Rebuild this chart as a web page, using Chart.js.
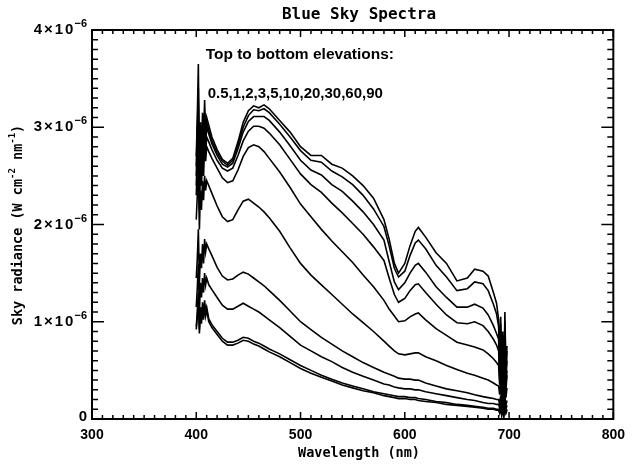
<!DOCTYPE html>
<html>
<head>
<meta charset="utf-8">
<script src="https://cdn.jsdelivr.net/npm/chart.js@4.4.0/dist/chart.umd.min.js"></script>
<style>
  html, body { margin: 0; padding: 0; background: #fff; }
  #wrap { width: 633px; height: 464px; }
</style>
</head>
<body>
<div id="wrap"><canvas id="chart" width="633" height="464"></canvas></div>
<script>
// wavelength grid (nm), shared by all spectra
const wavelengths = [400,401,402,403,404,405,406,407,408,409,410,
  412,415,420,425,430,435,440,445,450,455,460,465,470,
  480,490,500,510,520,530,540,550,560,570,580,
  585,590,594,600,605,610,613,620,630,640,650,660,667,675,680,685,688,
  690,691,692,693,694,695,696,697,698];

// sky radiance in units of 1e-6 W cm^-2 nm^-1, one array per elevation (deg)
const elevations = ['0.5','1','2','3','5','10','20','30','60','90'];

const sky05 = [2.70,3.10,3.65,2.45,3.05,2.75,3.15,2.85,3.28,2.95,3.10,
  3.02,2.90,2.77,2.67,2.63,2.68,2.85,3.05,3.17,3.22,3.20,3.23,3.19,
  3.07,2.95,2.80,2.71,2.71,2.62,2.58,2.50,2.40,2.27,2.05,
  1.85,1.60,1.50,1.60,1.78,1.93,1.97,1.87,1.71,1.60,1.42,1.45,1.54,1.52,1.47,1.30,1.19,
  1.02,0.60,1.05,0.40,0.90,0.35,1.10,0.50,0.75];
const sky1 = [2.60,3.00,3.40,2.50,2.95,2.70,3.05,2.80,3.15,2.90,3.05,
  2.97,2.86,2.74,2.65,2.61,2.66,2.82,3.00,3.12,3.18,3.17,3.19,3.15,
  3.03,2.90,2.76,2.66,2.64,2.55,2.49,2.41,2.30,2.16,1.98,
  1.78,1.55,1.46,1.52,1.68,1.81,1.84,1.75,1.58,1.46,1.32,1.34,1.41,1.39,1.32,1.18,1.08,
  0.95,0.55,0.98,0.35,0.85,0.30,1.00,0.45,0.70];
const sky2 = [2.50,2.90,3.25,2.40,2.85,2.60,2.95,2.75,3.05,2.85,3.00,
  2.93,2.83,2.71,2.62,2.59,2.63,2.78,2.95,3.06,3.11,3.11,3.11,3.07,
  2.95,2.81,2.66,2.56,2.51,2.41,2.34,2.24,2.13,2.00,1.84,
  1.62,1.41,1.33,1.40,1.50,1.58,1.60,1.51,1.36,1.25,1.15,1.15,1.18,1.14,1.07,0.96,0.88,
  0.82,0.45,0.90,0.30,0.75,0.25,0.85,0.40,0.60];
const sky3 = [2.40,2.75,3.05,2.30,2.75,2.50,2.85,2.65,2.95,2.75,2.90,
  2.85,2.77,2.66,2.58,2.55,2.58,2.71,2.86,2.96,3.01,3.01,2.99,2.94,
  2.82,2.67,2.52,2.41,2.33,2.22,2.12,2.01,1.90,1.77,1.63,
  1.45,1.28,1.20,1.24,1.32,1.38,1.39,1.30,1.18,1.07,0.99,0.98,1.00,0.96,0.90,0.82,0.76,
  0.70,0.40,0.78,0.25,0.65,0.22,0.75,0.35,0.50];
const sky5 = [2.30,2.60,2.85,2.15,2.60,2.40,2.70,2.50,2.80,2.65,2.80,
  2.75,2.68,2.58,2.48,2.43,2.45,2.56,2.70,2.79,2.82,2.80,2.75,2.68,
  2.54,2.38,2.21,2.08,1.95,1.83,1.72,1.61,1.48,1.36,1.22,
  1.13,1.06,1.00,1.01,1.05,1.08,1.09,1.02,0.93,0.86,0.79,0.76,0.74,0.71,0.67,0.62,0.58,
  0.55,0.35,0.62,0.20,0.55,0.18,0.60,0.30,0.45];
const sky10 = [2.05,2.30,2.60,1.95,2.35,2.15,2.45,2.25,2.50,2.35,2.45,
  2.40,2.32,2.19,2.08,2.03,2.05,2.15,2.24,2.26,2.22,2.18,2.13,2.07,
  1.93,1.76,1.60,1.48,1.38,1.28,1.18,1.08,0.99,0.90,0.80,
  0.75,0.70,0.67,0.66,0.67,0.68,0.68,0.64,0.60,0.55,0.51,0.47,0.45,0.42,0.40,0.37,0.35,
  0.34,0.25,0.40,0.18,0.36,0.15,0.38,0.22,0.32];
const sky20 = [1.45,1.65,1.95,1.40,1.70,1.55,1.80,1.60,1.85,1.72,1.80,
  1.75,1.68,1.56,1.47,1.43,1.44,1.48,1.51,1.49,1.45,1.41,1.37,1.32,
  1.22,1.11,1.00,0.92,0.84,0.77,0.70,0.64,0.58,0.53,0.48,
  0.46,0.44,0.42,0.41,0.41,0.40,0.40,0.37,0.34,0.31,0.29,0.27,0.25,0.23,0.22,0.21,0.20,
  0.20,0.15,0.24,0.10,0.22,0.08,0.23,0.14,0.19];
const sky30 = [1.15,1.35,1.60,1.10,1.40,1.25,1.45,1.30,1.50,1.38,1.45,
  1.38,1.33,1.25,1.17,1.13,1.13,1.16,1.19,1.16,1.13,1.10,1.06,1.02,
  0.94,0.85,0.76,0.70,0.64,0.59,0.53,0.48,0.44,0.40,0.36,
  0.35,0.33,0.32,0.31,0.31,0.30,0.30,0.28,0.26,0.24,0.22,0.20,0.19,0.17,0.16,0.16,0.15,
  0.15,0.11,0.18,0.08,0.17,0.06,0.18,0.10,0.14];
const sky60 = [0.95,1.10,1.30,0.92,1.15,1.02,1.20,1.05,1.22,1.10,1.15,
  1.03,0.97,0.90,0.83,0.79,0.79,0.81,0.84,0.83,0.80,0.78,0.75,0.72,
  0.67,0.61,0.55,0.50,0.45,0.41,0.37,0.34,0.31,0.28,0.26,
  0.25,0.24,0.23,0.23,0.22,0.22,0.21,0.20,0.18,0.17,0.15,0.14,0.13,0.12,0.11,0.11,0.10,
  0.10,0.07,0.13,0.05,0.12,0.04,0.13,0.07,0.10];
const sky90 = [0.92,1.05,1.25,0.88,1.10,0.98,1.15,1.02,1.18,1.06,1.12,
  1.00,0.94,0.87,0.80,0.76,0.76,0.78,0.81,0.80,0.77,0.75,0.72,0.69,
  0.64,0.58,0.52,0.47,0.43,0.39,0.35,0.32,0.29,0.27,0.24,
  0.23,0.22,0.21,0.21,0.20,0.20,0.19,0.18,0.17,0.15,0.14,0.13,0.12,0.11,0.10,0.10,0.09,
  0.09,0.06,0.12,0.04,0.11,0.03,0.12,0.06,0.09];

const spectra = [sky05, sky1, sky2, sky3, sky5, sky10, sky20, sky30, sky60, sky90];

// axis tick labels
const yTickValues = [0, 1, 2, 3, 4];
const yTickBase = ['0', '1×10', '2×10', '3×10', '4×10'];
const yTickExp = ['', '−6', '−6', '−6', '−6'];

const titleText = 'Blue Sky Spectra';
const xTitle = 'Wavelength (nm)';
const noteLine1 = 'Top to bottom elevations:';
const noteLine2 = elevations.join(',');

const SANS = '"Liberation Sans", Arial, sans-serif';
const MONO = '"DejaVu Sans Mono", monospace';

const datasets = spectra.map((vals, i) => ({
  label: elevations[i],
  data: vals.map((v, j) => ({ x: wavelengths[j], y: v })),
  borderColor: '#000',
  borderWidth: 1.6,
  pointRadius: 0,
  tension: 0,
  fill: false
}));

// box, inward ticks, y labels, titles, note
const framePlugin = {
  id: 'frame',
  afterDraw(chart) {
    const ctx = chart.ctx;
    const a = chart.chartArea;
    const xs = chart.scales.x, ys = chart.scales.y;
    ctx.save();
    ctx.strokeStyle = '#000';
    ctx.fillStyle = '#000';

    ctx.lineWidth = 2;
    ctx.strokeRect(a.left, a.top, a.right - a.left, a.bottom - a.top);

    ctx.lineWidth = 1.5;
    ctx.beginPath();
    for (let i = 0; i <= 50; i++) {
      const px = xs.getPixelForValue(300 + i * 10);
      const len = i % 10 === 0 ? 7 : 4;
      ctx.moveTo(px, a.bottom); ctx.lineTo(px, a.bottom - len);
      ctx.moveTo(px, a.top); ctx.lineTo(px, a.top + len);
    }
    for (let i = 0; i <= 40; i++) {
      const py = ys.getPixelForValue(i / 10);
      const len = i % 10 === 0 ? 12 : 6;
      ctx.moveTo(a.left, py); ctx.lineTo(a.left + len, py);
      ctx.moveTo(a.right, py); ctx.lineTo(a.right - len, py);
    }
    ctx.stroke();

    // y tick labels with superscript exponent
    yTickValues.forEach((v, i) => {
      const py = ys.getPixelForValue(v);
      ctx.textBaseline = 'middle';
      ctx.textAlign = 'right';
      let x = a.left - 5;
      if (yTickExp[i]) {
        ctx.font = 'bold 11px ' + SANS;
        ctx.fillText(yTickExp[i], x, py - 6);
        x -= ctx.measureText(yTickExp[i]).width + 1;
      }
      ctx.font = 'bold 15px ' + SANS;
      ctx.letterSpacing = v === 0 ? '0px' : '2px';
      ctx.fillText(yTickBase[i], x + (v === 0 ? 0 : 2), py + (v === 0 ? -2 : 0));
      ctx.letterSpacing = '0px';
    });

    // chart title
    ctx.font = 'bold 16px ' + MONO;
    ctx.textAlign = 'center';
    ctx.textBaseline = 'middle';
    ctx.fillText(titleText, 359, 15);

    // x axis title
    ctx.font = 'bold 13.5px ' + MONO;
    ctx.fillText(xTitle, 359, 453);

    // y axis title, rotated, with superscripts
    const parts = [
      ['Sky radiance (W cm', false], ['-2', true], [' nm', false], ['-1', true], [')', false]
    ];
    const fBase = 'bold 13.5px ' + MONO, fSup = 'bold 9px ' + MONO;
    let total = 0;
    parts.forEach(p => { ctx.font = p[1] ? fSup : fBase; total += ctx.measureText(p[0]).width; });
    ctx.save();
    ctx.translate(18, 225);
    ctx.rotate(-Math.PI / 2);
    ctx.textAlign = 'left';
    let cx = -total / 2;
    parts.forEach(p => {
      ctx.font = p[1] ? fSup : fBase;
      ctx.fillText(p[0], cx, p[1] ? -5 : 0);
      cx += ctx.measureText(p[0]).width;
    });
    ctx.restore();

    // elevation note placed in data coordinates
    ctx.font = 'bold 15.5px ' + SANS;
    ctx.textAlign = 'left';
    ctx.textBaseline = 'alphabetic';
    ctx.fillText(noteLine1, xs.getPixelForValue(409), ys.getPixelForValue(3.70));
    ctx.font = 'bold 15px ' + SANS;
    ctx.fillText(noteLine2, xs.getPixelForValue(411), ys.getPixelForValue(3.30));
    ctx.restore();
  }
};

new Chart(document.getElementById('chart'), {
  type: 'line',
  data: { datasets: datasets },
  options: {
    responsive: false,
    animation: false,
    devicePixelRatio: 1,
    layout: { padding: { top: 30, right: 12, left: 0, bottom: 0 } },
    plugins: { legend: { display: false }, title: { display: false }, tooltip: { enabled: false } },
    scales: {
      x: {
        type: 'linear',
        min: 300, max: 800,
        grid: { display: false, drawTicks: false },
        border: { display: false },
        ticks: {
          stepSize: 100, padding: 8, maxRotation: 0, autoSkip: false,
          color: '#000', font: { family: SANS, size: 14, weight: 'bold' }
        },
        afterFit: s => { s.height = 45; }
      },
      y: {
        min: 0, max: 4,
        grid: { display: false, drawTicks: false },
        border: { display: false },
        ticks: { display: false },
        afterFit: s => { s.width = 92; }
      }
    }
  },
  plugins: [framePlugin]
});
</script>
</body>
</html>
